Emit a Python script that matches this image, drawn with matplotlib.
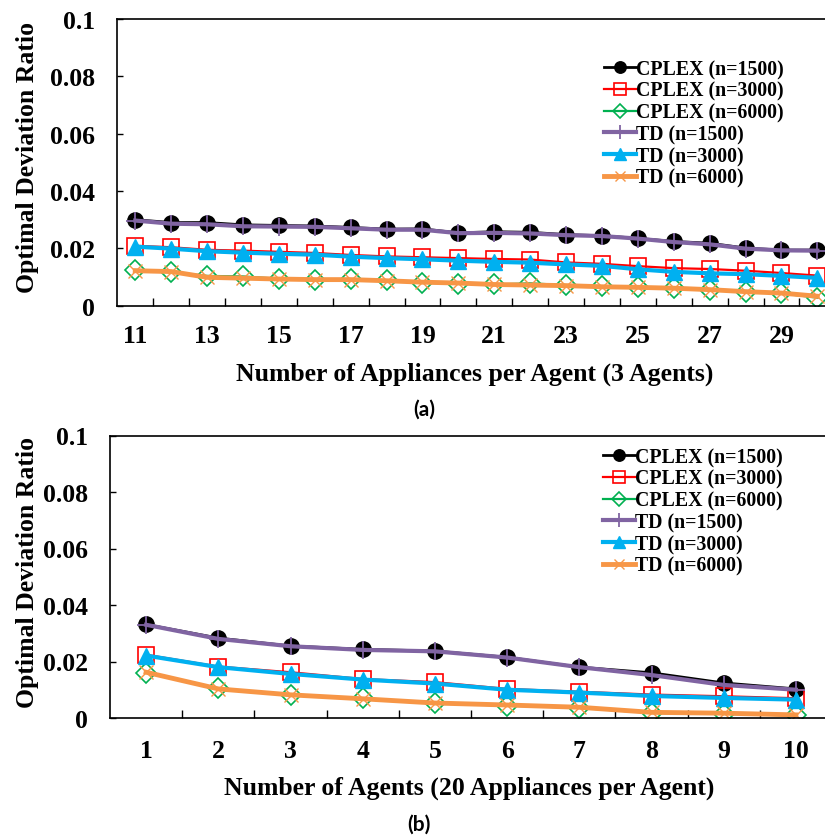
import matplotlib
matplotlib.use("Agg")
import matplotlib.pyplot as plt
import numpy as np

plt.rcParams['font.family'] = ['Liberation Serif', 'DejaVu Serif']
plt.rcParams['font.weight'] = 'bold'

# ---------------- data (a) ----------------
x_a = list(range(11, 31))
cplex1500_a = [0.0300, 0.0290, 0.0290, 0.0282, 0.0280, 0.0278, 0.0273, 0.0267, 0.0268, 0.0254,
               0.0258, 0.0256, 0.0248, 0.0244, 0.0235, 0.0224, 0.0218, 0.0201, 0.0194, 0.0194]
cplex3000_a = [0.0209, 0.0204, 0.0195, 0.0192, 0.0188, 0.0184, 0.0177, 0.0172, 0.0169, 0.0166,
               0.0163, 0.0161, 0.0151, 0.0146, 0.0138, 0.0131, 0.0128, 0.0122, 0.0114, 0.0105]
cplex6000_a = [0.0125, 0.0117, 0.0104, 0.0102, 0.0094, 0.0091, 0.0092, 0.0088, 0.0080, 0.0077,
               0.0074, 0.0078, 0.0072, 0.0068, 0.0064, 0.0060, 0.0055, 0.0048, 0.0043, 0.0028]
td1500_a = [0.0297, 0.0286, 0.0284, 0.0277, 0.0276, 0.0275, 0.0270, 0.0265, 0.0265, 0.0253,
            0.0254, 0.0252, 0.0246, 0.0243, 0.0234, 0.0222, 0.0214, 0.0199, 0.0193, 0.0192]
td3000_a = [0.0206, 0.0199, 0.0190, 0.0185, 0.0181, 0.0178, 0.0171, 0.0166, 0.0162, 0.0157,
            0.0153, 0.0150, 0.0144, 0.0139, 0.0127, 0.0118, 0.0113, 0.0110, 0.0104, 0.0097]
td6000_a = [0.0122, 0.0119, 0.0099, 0.0096, 0.0093, 0.0091, 0.0091, 0.0087, 0.0082, 0.0079,
            0.0074, 0.0072, 0.0070, 0.0066, 0.0064, 0.0061, 0.0056, 0.0049, 0.0044, 0.0033]

# ---------------- data (b) ----------------
x_b = list(range(1, 11))
cplex1500_b = [0.0331, 0.0283, 0.0255, 0.0243, 0.0237, 0.0215, 0.0180, 0.0160, 0.0124, 0.0103]
cplex3000_b = [0.0224, 0.0182, 0.0162, 0.0138, 0.0127, 0.0103, 0.0093, 0.0083, 0.0077, 0.0070]
cplex6000_b = [0.0160, 0.0105, 0.0080, 0.0070, 0.0052, 0.0044, 0.0036, 0.0018, 0.0015, 0.0009]
td1500_b = [0.0330, 0.0280, 0.0254, 0.0241, 0.0236, 0.0214, 0.0180, 0.0152, 0.0117, 0.0100]
td3000_b = [0.0221, 0.0180, 0.0156, 0.0136, 0.0122, 0.0100, 0.0090, 0.0078, 0.0071, 0.0065]
td6000_b = [0.0162, 0.0103, 0.0082, 0.0068, 0.0053, 0.0046, 0.0038, 0.0020, 0.0017, 0.0011]

labels = ['CPLEX (n=1500)', 'CPLEX (n=3000)', 'CPLEX (n=6000)',
          'TD (n=1500)', 'TD (n=3000)', 'TD (n=6000)']
y_ticks = [0, 0.02, 0.04, 0.06, 0.08, 0.1]
y_ticklabels = ['0', '0.02', '0.04', '0.06', '0.08', '0.1']
ylabel = 'Optimal Deviation Ratio'
xlabel_a = 'Number of Appliances per Agent (3 Agents)'
xlabel_b = 'Number of Agents (20 Appliances per Agent)'

styles = [
    dict(color='#000000', lw=2.0, marker='o', ms=11, mfc='#000000', mec='#000000'),
    dict(color='#FF0000', lw=1.6, marker='s', ms=11, mfc='none', mec='#FF0000', mew=1.2),
    dict(color='#00B050', lw=1.6, marker='D', ms=10, mfc='none', mec='#00B050', mew=1.2),
    dict(color='#8064A2', lw=3.0, marker='+', ms=13, mec='#8064A2', mew=1.3),
    dict(color='#00B0F0', lw=3.0, marker='^', ms=11, mfc='#00B0F0', mec='#00B0F0'),
    dict(color='#F79646', lw=3.5, marker='x', ms=10, mec='#F79646', mew=1.0),
]

FS = 18.5
W, H = 825, 837
fig = plt.figure(figsize=(W / 100, H / 100), dpi=100)


def px_axes(left, right, top, bottom):
    return fig.add_axes([left / W, 1 - bottom / H, (right - left) / W, (bottom - top) / H])


def setup(ax, xs, label_xs, xlabel, xl_y, tick_pad_x):
    ax.set_ylim(0, 0.1)
    ax.set_xlim(xs[0] - 0.5, xs[-1] + 0.5)
    ax.set_yticks(y_ticks)
    ax.set_yticklabels(y_ticklabels)
    ax.tick_params(axis='y', direction='in', length=4, width=1, pad=16, labelsize=FS)
    ax.set_xticks(label_xs)
    ax.set_xticklabels([str(v) for v in label_xs])
    ax.tick_params(axis='x', which='major', length=0, pad=tick_pad_x, labelsize=FS)
    ax.set_xticks([v + 0.5 for v in xs[:-1]], minor=True)
    ax.tick_params(axis='x', which='minor', direction='in', length=6, width=1)
    for s in ax.spines.values():
        s.set_linewidth(1.2)
    ax.set_ylabel(ylabel, fontsize=FS, fontweight='bold')
    ax.set_xlabel(xlabel, fontsize=FS, fontweight='bold')
    ax.xaxis.set_label_coords(0.498, xl_y)


def draw(ax, xs, series, leg_anchor):
    handles = []
    for ys, st, lab in zip(series, styles, labels):
        h, = ax.plot(xs, ys, label=lab, **st)
        handles.append(h)
    ax.legend(handles=handles, loc='upper left', bbox_to_anchor=leg_anchor,
              bbox_transform=fig.transFigure, frameon=False, fontsize=14.3,
              handlelength=1.6, handletextpad=0.0, labelspacing=0.09,
              borderpad=0, borderaxespad=0, markerscale=0.75)


# (a)
ax1 = px_axes(117.3, 117.3 + 20 * 35.9, 20, 306.7)
setup(ax1, x_a, x_a[::2], xlabel_a, -0.195, 13)
draw(ax1, x_a, [cplex1500_a, cplex3000_a, cplex6000_a, td1500_a, td3000_a, td6000_a],
     (604 / W, 1 - 60 / H))
ax1.yaxis.set_label_coords(-0.109, 0.52)

# (b)
ax2 = px_axes(110, 110 + 10 * 72.2, 436.5, 719)
setup(ax2, x_b, x_b, xlabel_b, -0.205, 15)
draw(ax2, x_b, [cplex1500_b, cplex3000_b, cplex6000_b, td1500_b, td3000_b, td6000_b],
     (603 / W, 1 - 448 / H))
ax2.yaxis.set_label_coords(-0.099, 0.52)

fig.text(424 / W, 1 - 410 / H, '(a)', ha='center', va='center', fontsize=15,
         family=['Lato', 'DejaVu Sans'], fontweight='bold')
fig.text(419 / W, 1 - 825 / H, '(b)', ha='center', va='center', fontsize=15,
         family=['Lato', 'DejaVu Sans'], fontweight='bold')

fig.savefig('out.png', dpi=100)
